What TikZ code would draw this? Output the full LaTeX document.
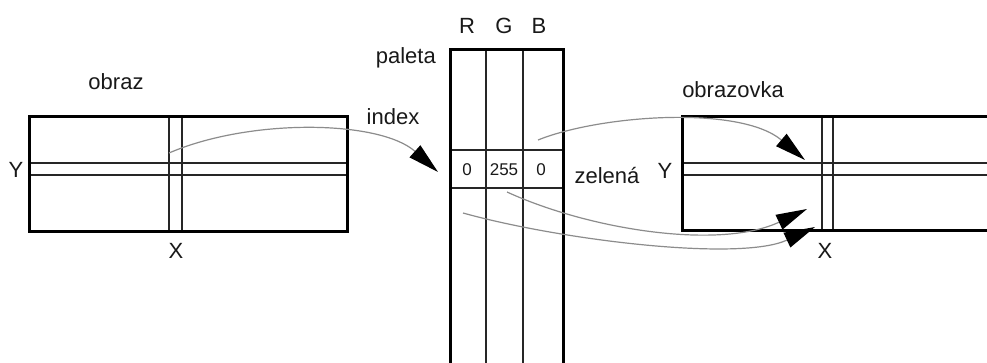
\documentclass[tikz,border=0pt]{standalone}
\usepackage{fontspec}
\setmainfont{Liberation Sans}
\usetikzlibrary{arrows.meta}
\tikzset{
  lbl/.style={inner sep=0pt, text=black!90, font=\fontsize{22}{24}\selectfont},
  num/.style={inner sep=0pt, text=black!90, font=\fontsize{17}{19}\selectfont},
  frame/.style={line width=3pt, draw=black},
  thin/.style={line width=1.1pt, draw=black!85},
  flow/.style={draw=black!45, line width=1.2pt, -{Triangle[length=31pt, width=16pt, color=black]}},
}
\begin{document}
\begin{tikzpicture}[x=1pt, y=-1pt]
\useasboundingbox (0,0) rectangle (987,363);
\clip (0,0) rectangle (987,363);
\fill[white] (0,0) rectangle (987,363);

% obraz
\draw[thin] (169,117) -- (169,232) (182,117) -- (182,232);
\draw[thin] (29,163) -- (347,163) (29,175) -- (347,175);
\node[frame, minimum width=318pt, minimum height=115pt, inner sep=0pt] (obraz) at (188,174.5) {};
\node[lbl] (tobraz) at (116,82) {obraz};
\node[lbl] (y1) at (16,170) {Y};
\node[lbl] (x1) at (176,251) {X};

% paleta
\draw[thin] (486,50) -- (486,370) (523,50) -- (523,370);
\draw[thin] (450,150) -- (563,150) (450,188) -- (563,188);
\draw[frame] (450,370) -- (450,50) -- (563,50) -- (563,370);
\node[lbl] (r) at (467,26) {R};
\node[lbl] (g) at (504,26) {G};
\node[lbl] (b) at (539,26) {B};
\node[lbl, anchor=east] (tpal) at (436,58) {paleta};
\node[lbl] (tindex) at (393,117) {index};
\node[num] (v0) at (467,170) {0};
\node[num] (v1) at (504,170) {255};
\node[num] (v2) at (541,170) {0};
\node[lbl] (tzel) at (607,176) {zelená};

% obrazovka
\draw[thin] (822,117) -- (822,231) (833,117) -- (833,231);
\draw[thin] (682,163) -- (990,163) (682,175) -- (990,175);
\draw[frame] (995,117) -- (682,117) -- (682,231) -- (995,231);
\node[lbl] (tscr) at (733,90) {obrazovka};
\node[lbl] (y2) at (665,171) {Y};
\node[lbl] (x2) at (825,251) {X};

% connectors
\coordinate (s1) at (169,153);
\coordinate (e1) at (438,172);
\coordinate (s2) at (538,140);
\coordinate (e2) at (805,160);
\coordinate (s3) at (507,192);
\coordinate (e3) at (807,209);
\coordinate (s4) at (463,213);
\coordinate (e4) at (815,227);
\draw[flow] (s1) .. controls (250,118) and (380,120) .. (e1);
\draw[flow] (s2) .. controls (600,115) and (740,105) .. (e2);
\draw[flow] (s3) .. controls (590,230) and (720,250) .. (e3);
\draw[flow] (s4) .. controls (560,240) and (740,262) .. (e4);
\end{tikzpicture}
\end{document}
